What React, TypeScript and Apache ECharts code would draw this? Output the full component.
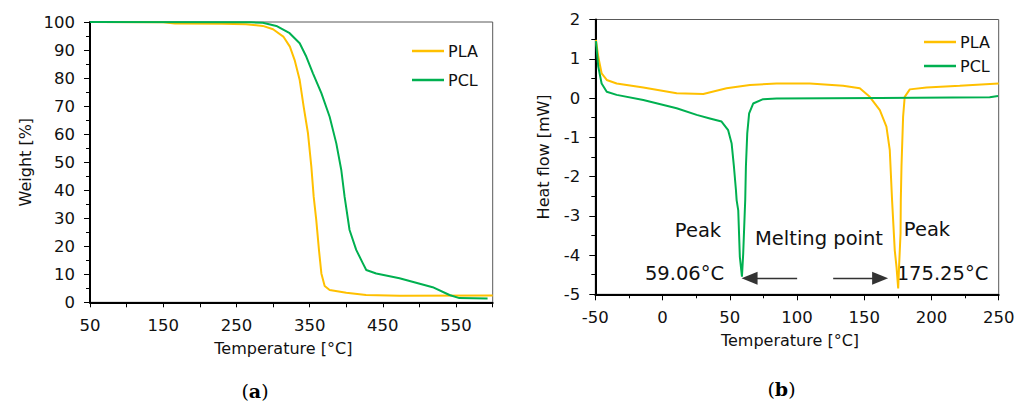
import React, { useEffect, useRef } from "react";
import * as echarts from "echarts";

// ---- (a) TGA: temperature [°C] vs weight [%]
const tgaPLA: [number, number][] = [
  [50, 100], [150, 99.9], [166, 99.5], [230, 99.4], [263, 99.2], [286, 98.6], [300, 97.4],
  [314, 94.8], [323, 91.2], [329.5, 86.4], [336.4, 79.3], [341.8, 69.8], [347.7, 60.3],
  [352.3, 48.4], [355.5, 37.7], [359, 29.4], [362.7, 18.7], [366, 10.3], [370.5, 5.8],
  [377.3, 4.4], [400, 3.4], [427, 2.6], [473, 2.3], [600, 2.4],
];
const tgaPCL: [number, number][] = [
  [50, 100], [270, 99.9], [286, 99.7], [304.5, 98.6], [322.7, 96], [336.4, 92.4],
  [345.5, 87.6], [354.5, 81.7], [366, 74.6], [377.3, 66.2], [386.4, 56.7], [393.2, 47.2],
  [397.7, 37.7], [404.5, 25.8], [413.6, 18.7], [422.7, 13.9], [427.3, 11.5], [440.9, 10.3],
  [472.7, 8.6], [518, 5.4], [541, 2.6], [554.5, 1.5], [593, 1.4],
];

// ---- (b) DSC: temperature [°C] vs heat flow [mW]
const dscPLA: [number, number][] = [
  [-49.5, 1.48], [-47.8, 1.05], [-45.3, 0.63], [-41.5, 0.46], [-34.1, 0.37], [-14.3, 0.27],
  [10.5, 0.12], [30.3, 0.1], [47.6, 0.25], [65, 0.33], [84.8, 0.37], [109.5, 0.37],
  [134.3, 0.31], [146.7, 0.25], [154.1, 0.03], [161.6, -0.31], [166.5, -0.73], [169, -1.33],
  [170.7, -2.6], [172.7, -3.88], [174, -4.3], [175.25, -4.85], [175.9, -4.3], [177, -3.45],
  [177.2, -2.6], [177.7, -1.75], [178.9, -0.48], [180.1, 0.03], [183.9, 0.22], [196.3, 0.27],
  [221, 0.31], [250, 0.37],
];
const dscPCL: [number, number][] = [
  [-49.5, 1.45], [-47.8, 0.8], [-45.3, 0.37], [-41.5, 0.16], [-34.1, 0.08], [-14.3, -0.05],
  [10.5, -0.26], [25.4, -0.43], [35.2, -0.52], [43.9, -0.6], [48.8, -0.82], [51.4, -1.16],
  [53.1, -1.75], [54.6, -2.35], [55.1, -2.6], [56.3, -2.86], [57.5, -4.05], [59.06, -4.55],
  [60, -3.96], [61.2, -2.86], [61.5, -2.6], [62, -1.75], [63, -0.9], [64.4, -0.39],
  [67.4, -0.14], [74.8, -0.03], [84.8, -0.01], [161.6, 0.0], [243.3, 0.02], [249.5, 0.05],
];

// annotation arrows (data coords) : [fromX, toX], shared y
const arrowY = -4.59;
const arrowLeft: [number, number] = [100.1, 64.7];
const arrowRight: [number, number] = [126.9, 161.8];

const seriesNames = ["PLA", "PCL"];
const COLORS = { PLA: "#FFC000", PCL: "#00B050" };

const FONT = "DejaVu Sans";
const TXT = "#111";

function axisCommon() {
  return {
    axisLine: { show: true, onZero: false, lineStyle: { color: "#000", width: 2 } },
    axisTick: { show: true, length: 6, lineStyle: { color: "#000", width: 1 } },
    splitLine: { show: false },
    axisLabel: { color: TXT, fontFamily: FONT, fontSize: 16.5, margin: 15 },
    nameTextStyle: { color: TXT, fontFamily: FONT, fontSize: 16 },
  };
}

export default function App() {
  const ref = useRef<HTMLDivElement>(null);
  useEffect(() => {
    if (!ref.current) return;
    const chart = echarts.init(ref.current, null, { renderer: "svg" });
    const c = axisCommon();
    const minor = { show: true, splitNumber: 2, length: 4, lineStyle: { color: "#000", width: 1 } };
    const legendText = { color: TXT, fontFamily: FONT, fontSize: 16, lineHeight: 16, padding: [0, 0, 0, -1] };
    const annot = (text: string, x: number, y: number) => ({
      type: "text", x, y,
      style: { text, fontFamily: FONT, fontSize: 19.5, fill: TXT, align: "center", verticalAlign: "middle" },
    });
    const caption = (letter: string, x: number, y: number) => ({
      type: "text", x, y,
      style: {
        text: `{p|(}{b|${letter}}{p|)}`, align: "center", verticalAlign: "middle",
        rich: {
          p: { fontFamily: "DejaVu Serif", fontSize: 19, fill: "#000" },
          b: { fontFamily: "DejaVu Serif", fontSize: 19, fontWeight: "bold", fill: "#000" },
        },
      },
    });
    const option: any = {
      animation: false,
      backgroundColor: "#fff",
      grid: [
        { left: 90, top: 22, width: 402.7, height: 280.3, show: true, borderColor: "#595959", borderWidth: 1 },
        { left: 595.3, top: 19.5, width: 403.4, height: 274.8, show: true, borderColor: "#595959", borderWidth: 1 },
      ],
      xAxis: [
        {
          ...c,
          type: "value", gridIndex: 0, min: 50, max: 600, interval: 50,
          axisTick: { ...c.axisTick, length: 5 },
          axisLabel: {
            ...c.axisLabel,
            formatter: (v: number) => ((v - 50) % 100 === 0 && v <= 550 ? String(v) : ""),
          },
          name: "Temperature [°C]", nameLocation: "middle", nameGap: 38,
          nameTextStyle: { ...c.nameTextStyle, padding: [0, 16, 0, 0] },
        },
        {
          ...c,
          type: "value", gridIndex: 1, min: -50, max: 250, interval: 50,
          minorTick: minor,
          name: "Temperature [°C]", nameLocation: "middle", nameGap: 38,
          nameTextStyle: { ...c.nameTextStyle, padding: [0, 14, 0, 0] },
        },
      ],
      yAxis: [
        {
          ...c,
          type: "value", gridIndex: 0, min: 0, max: 100, interval: 10,
          minorTick: minor,
          name: "Weight [%]", nameLocation: "middle", nameGap: 57,
        },
        {
          ...c,
          type: "value", gridIndex: 1, min: -5, max: 2, interval: 1,
          minorTick: minor,
          name: "Heat flow [mW]", nameLocation: "middle", nameGap: 44,
        },
      ],
      legend: [
        {
          data: seriesNames, orient: "vertical", left: 407, top: 38, icon: "rect",
          itemWidth: 32, itemHeight: 2.5, itemGap: 13, selectedMode: false, textStyle: legendText,
        },
        {
          data: seriesNames, orient: "vertical", left: 919, top: 29, icon: "rect",
          itemWidth: 32, itemHeight: 2.5, itemGap: 8, selectedMode: false, textStyle: legendText,
        },
      ],
      series: [
        {
          name: "PLA", type: "line", xAxisIndex: 0, yAxisIndex: 0, data: tgaPLA,
          showSymbol: false, symbol: "none", lineStyle: { color: COLORS.PLA, width: 2 },
          itemStyle: { color: COLORS.PLA }, silent: true,
        },
        {
          name: "PCL", type: "line", xAxisIndex: 0, yAxisIndex: 0, data: tgaPCL,
          showSymbol: false, symbol: "none", lineStyle: { color: COLORS.PCL, width: 2 },
          itemStyle: { color: COLORS.PCL }, silent: true,
        },
        {
          name: "PLA", type: "line", xAxisIndex: 1, yAxisIndex: 1, data: dscPLA,
          showSymbol: false, symbol: "none", lineStyle: { color: COLORS.PLA, width: 2 },
          itemStyle: { color: COLORS.PLA }, silent: true,
        },
        {
          name: "PCL", type: "line", xAxisIndex: 1, yAxisIndex: 1, data: dscPCL,
          showSymbol: false, symbol: "none", lineStyle: { color: COLORS.PCL, width: 2 },
          itemStyle: { color: COLORS.PCL }, silent: true,
          markLine: {
            silent: true, animation: false,
            symbol: ["none", "triangle"], symbolSize: [13, 16],
            label: { show: false },
            lineStyle: { color: "#333", width: 1.3, type: "solid" },
            itemStyle: { color: "#111" },
            data: [
              [{ coord: [arrowLeft[0], arrowY] }, { coord: [arrowLeft[1], arrowY] }],
              [{ coord: [arrowRight[0], arrowY] }, { coord: [arrowRight[1], arrowY] }],
            ],
          },
        },
      ],
      graphic: [
        annot("Peak", 698, 230),
        annot("Melting point", 819, 238),
        annot("Peak", 927, 229.5),
        annot("59.06°C", 684.5, 273),
        annot("175.25°C", 942.5, 273),
        caption("a", 255, 391),
        caption("b", 781.5, 389),
      ],
    };
    chart.setOption(option);
    return () => chart.dispose();
  }, []);
  return (
    <div
      ref={ref}
      style={{ position: "absolute", left: 0, top: 0, width: 1026, height: 403, background: "#fff" }}
    />
  );
}
